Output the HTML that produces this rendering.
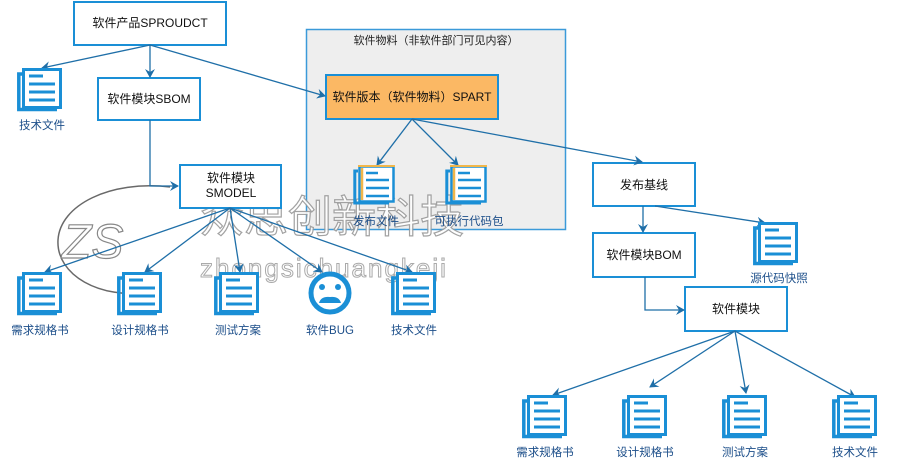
<!DOCTYPE html>
<html><head><meta charset="utf-8"><style>
html,body{margin:0;padding:0;background:#fff;}
svg{display:block;}
text{font-family:"Liberation Sans","Noto Sans CJK SC",sans-serif;}
</style></head><body>
<svg width="900" height="462" viewBox="0 0 900 462" xmlns="http://www.w3.org/2000/svg">
<defs>
<marker id="a" markerWidth="10" markerHeight="10" refX="8" refY="5" orient="auto" markerUnits="userSpaceOnUse">
<path d="M0,0 L9,5 L0,10 L3,5 z" fill="#1f6fa8"/>
</marker>
<g id="doc">
<path d="M5,6 L1.8,6 L1.8,41.5 L40,41.5" fill="none" stroke="#1a8fd6" stroke-width="3.5"/>
<rect x="6.5" y="1.5" width="37" height="38" fill="#fff" stroke="#1a8fd6" stroke-width="3"/>
<g stroke="#1a8fd6" stroke-width="3">
<line x1="12" y1="8" x2="26" y2="8"/><line x1="12" y1="16" x2="38" y2="16"/>
<line x1="12" y1="24" x2="38" y2="24"/><line x1="12" y1="32" x2="38" y2="32"/>
</g>
</g>
<g id="doco">
<path d="M5,6 L1.8,6 L1.8,38 L36,38" fill="none" stroke="#1a8fd6" stroke-width="3"/>
<rect x="6.5" y="1.5" width="34" height="35" fill="#fff" stroke="#1a8fd6" stroke-width="2.5"/>
<line x1="9" y1="3" x2="9" y2="35" stroke="#f0b64a" stroke-width="2.5"/>
<rect x="5" y="0" width="37" height="2" fill="#f0b64a"/>
<g stroke="#1a8fd6" stroke-width="2.5">
<line x1="13" y1="8" x2="25" y2="8"/><line x1="13" y1="15" x2="36" y2="15"/>
<line x1="13" y1="23" x2="36" y2="23"/><line x1="13" y1="31" x2="36" y2="31"/>
</g>
</g>
</defs>

<rect x="306.5" y="29.5" width="259" height="200" fill="#eeeeee" stroke="#3b9ad9" stroke-width="1.5"/>
<text x="436" y="44" font-size="11" text-anchor="middle" fill="#222">软件物料（非软件部门可见内容）</text>

<!-- watermark -->
<path d="M170,187 C110,180 60,205 58,240 C56,275 100,300 150,292" fill="none" stroke="#444" stroke-width="1.5" opacity="0.8"/>
<text x="62" y="258" font-size="48" font-style="italic" fill="#fff" stroke="#888" stroke-width="1.2">ZS</text>
<text x="200" y="232" font-size="44" fill="#fff" stroke="#999" stroke-width="1.2" opacity="0.9">众思创新科技</text>
<text x="200" y="277" font-size="26" fill="#fff" stroke="#aaa" stroke-width="1" letter-spacing="2">zhongsichuangkeji</text>

<g fill="#fff" stroke="#1a8fd6" stroke-width="2">
<rect x="74" y="2" width="152" height="43"/>
<rect x="98" y="78" width="102" height="42"/>
<rect x="180" y="165" width="101" height="43"/>
<rect x="593" y="163" width="102" height="43"/>
<rect x="593" y="233" width="102" height="44"/>
<rect x="685" y="287" width="102" height="44"/>
</g>
<rect x="326" y="75" width="172" height="44" fill="#fbb864" stroke="#1a8fd6" stroke-width="2"/>

<g font-size="12" fill="#111" text-anchor="middle">
<text x="150" y="27">软件产品SPROUDCT</text>
<text x="149" y="103">软件模块SBOM</text>
<text x="231" y="182">软件模块</text>
<text x="231" y="197">SMODEL</text>
<text x="412" y="101">软件版本（软件物料）SPART</text>
<text x="644" y="189">发布基线</text>
<text x="644" y="259">软件模块BOM</text>
<text x="736" y="313">软件模块</text>
</g>

<g fill="none" stroke="#1f6fa8" stroke-width="1.3" marker-end="url(#a)">
<line x1="150" y1="45" x2="42" y2="68"/>
<line x1="150" y1="45" x2="150" y2="77"/>
<line x1="150" y1="45" x2="325" y2="96"/>
<polyline points="150,120 150,186 178,186"/>
<line x1="230" y1="208" x2="45" y2="272"/>
<line x1="230" y1="208" x2="145" y2="272"/>
<line x1="230" y1="208" x2="240" y2="272"/>
<line x1="230" y1="208" x2="322" y2="272"/>
<line x1="230" y1="208" x2="412" y2="272"/>
<line x1="412" y1="119" x2="377" y2="165"/>
<line x1="412" y1="119" x2="458" y2="165"/>
<line x1="412" y1="119" x2="642" y2="162"/>
<line x1="643" y1="206" x2="643" y2="232"/>
<line x1="655" y1="206" x2="765" y2="223"/>
<polyline points="645,277 645,310 684,310"/>
<line x1="735" y1="331" x2="553" y2="395"/>
<line x1="735" y1="331" x2="650" y2="387"/>
<line x1="735" y1="331" x2="746" y2="393"/>
<line x1="735" y1="331" x2="855" y2="397"/>
</g>

<use href="#doc" x="17" y="68"/>
<use href="#doc" x="17" y="272"/>
<use href="#doc" x="117" y="272"/>
<use href="#doc" x="214" y="272"/>
<use href="#doc" x="391" y="272"/>
<use href="#doco" x="353" y="165"/>
<use href="#doco" x="445" y="165"/>
<use href="#doc" x="753" y="222"/>
<use href="#doc" x="522" y="395"/>
<use href="#doc" x="622" y="395"/>
<use href="#doc" x="722" y="395"/>
<use href="#doc" x="832" y="395"/>
<circle cx="330" cy="293" r="19" fill="#fff" stroke="#1a8fd6" stroke-width="5"/>
<circle cx="322" cy="287" r="3" fill="#1a8fd6"/>
<circle cx="338" cy="287" r="3" fill="#1a8fd6"/>
<path d="M319,303 Q321,296 330,297 Q339,296 341,303 z" fill="#1a8fd6"/>

<g font-size="11.5" fill="#1d4f8a" text-anchor="middle">
<text x="42" y="129">技术文件</text>
<text x="40" y="334">需求规格书</text>
<text x="140" y="334">设计规格书</text>
<text x="238" y="334">测试方案</text>
<text x="330" y="334">软件BUG</text>
<text x="414" y="334">技术文件</text>
<text x="376" y="225">发布文件</text>
<text x="469" y="225">可执行代码包</text>
<text x="779" y="282">源代码快照</text>
<text x="545" y="456">需求规格书</text>
<text x="645" y="456">设计规格书</text>
<text x="745" y="456">测试方案</text>
<text x="855" y="456">技术文件</text>
</g>
</svg>
</body></html>
